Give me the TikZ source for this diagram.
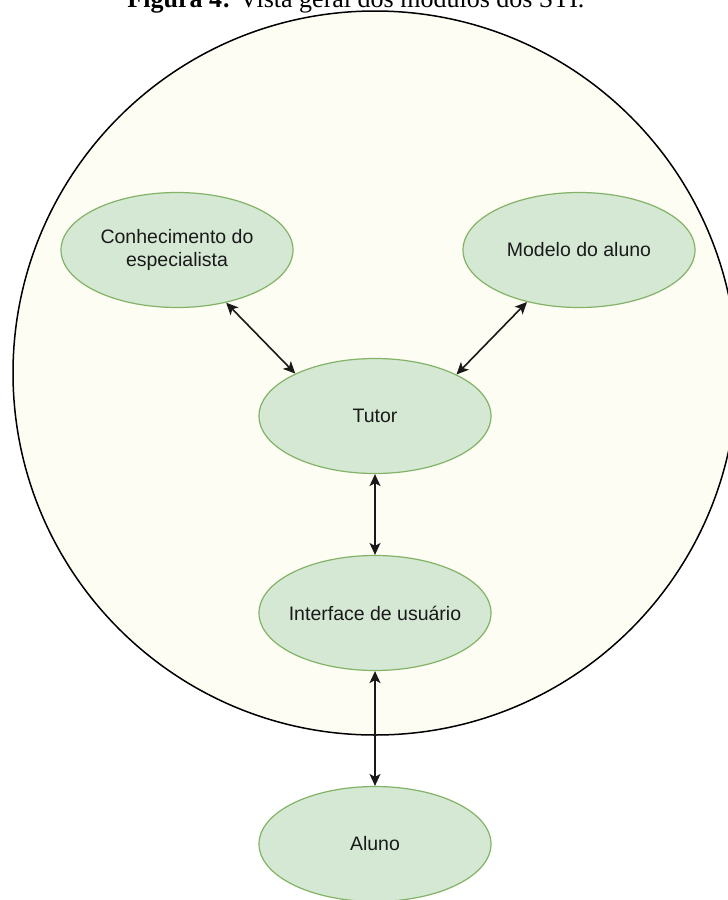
\documentclass[tikz,border=0pt]{standalone}
\usepackage{fontspec}
\setmainfont{Liberation Sans}
\newfontfamily\captionserif{Liberation Serif}
\usetikzlibrary{shapes.geometric,arrows.meta}
\definecolor{modfill}{HTML}{D5E8D4}
\definecolor{moddraw}{HTML}{82B366}
\definecolor{envfill}{HTML}{FDFDF4}
\definecolor{txt}{HTML}{1A1A1A}
\begin{document}
\begin{tikzpicture}[x=1pt,y=-1pt,
  module/.style={ellipse, draw=moddraw, fill=modfill, line width=1.2pt,
    minimum width=232pt, minimum height=115pt, inner xsep=-14pt, inner ysep=0pt,
    align=center, text=txt, font=\fontsize{19.5}{22.5}\selectfont},
  link/.style={{Stealth[length=12pt,width=11pt,inset=3pt]}-{Stealth[length=12pt,width=11pt,inset=3pt]},
    line width=1.6pt, black!90}
]
\useasboundingbox (0,0) rectangle (728,900);
\clip (0,0) rectangle (728,900);
\fill[white] (0,0) rectangle (728,900);

% system boundary
\draw[fill=envfill, line width=1.5pt] (375,373) circle[radius=362];

% caption (runs off the top edge of the page)
\node[anchor=base, font=\captionserif\fontsize{26}{28}\selectfont] (caption) at (356,7.5)
  {\textbf{Figura 4:} Vista geral dos módulos dos STI.};

% modules
\node[module] (ck) at (177,250) {Conhecimento do\\especialista};
\node[module] (ma) at (579,250) {Modelo do aluno};
\node[module] (tutor) at (375,416) {Tutor};
\node[module] (ui) at (375,613) {Interface de usuário};
\node[module] (aluno) at (375,844) {Aluno};

% connections
\draw[link] (ck.-47) -- (tutor.152);
\draw[link] (ma.-135) -- (tutor.27);
\draw[link] (tutor.south) -- (ui.north);
\draw[link] (ui.south) -- (aluno.north);
\end{tikzpicture}
\end{document}
